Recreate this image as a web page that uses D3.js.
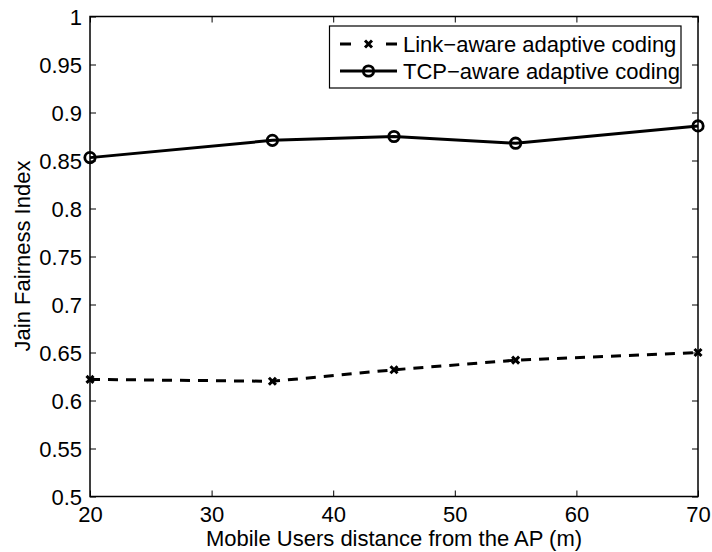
<!DOCTYPE html>
<html>
<head>
<meta charset="utf-8">
<script src="https://cdn.jsdelivr.net/npm/d3@7"></script>
<style>
  html, body { margin: 0; padding: 0; background: #fff; }
  svg { display: block; }
  text { font-family: "Liberation Sans", Arial, Helvetica, sans-serif; fill: #000; }
</style>
</head>
<body>
<svg id="chart" width="712" height="552"></svg>
<script>
// Distances of the mobile users from the access point (m)
const distances = [20, 35, 45, 55, 70];
// Jain fairness index per scheme
const linkAware = [0.622, 0.620, 0.632, 0.642, 0.650];
const tcpAware  = [0.853, 0.871, 0.875, 0.868, 0.886];
const seriesNames = ["Link\u2212aware adaptive coding", "TCP\u2212aware adaptive coding"];
const xTicks = [20, 30, 40, 50, 60, 70];
const yTicks = [0.5, 0.55, 0.6, 0.65, 0.7, 0.75, 0.8, 0.85, 0.9, 0.95, 1];

const svg = d3.select("#chart");
const m = { left: 90, right: 698, top: 16.5, bottom: 496.5 };

const x = d3.scaleLinear().domain([20, 70]).range([m.left, m.right]);
const y = d3.scaleLinear().domain([0.5, 1]).range([m.bottom, m.top]);

const fontSize = 22;
const tickLen = 6;

// Axes (ticks point inward, mirrored on the opposite sides)
const gx = svg.append("g").attr("transform", `translate(0,${m.bottom})`)
  .call(d3.axisBottom(x).tickValues(xTicks).tickSize(-tickLen).tickPadding(9.5).tickFormat(d3.format("d")));
const gxTop = svg.append("g").attr("transform", `translate(0,${m.top})`)
  .call(d3.axisTop(x).tickValues(xTicks).tickSize(-tickLen).tickFormat(""));
const gy = svg.append("g").attr("transform", `translate(${m.left},0)`)
  .call(d3.axisLeft(y).tickValues(yTicks).tickSize(-tickLen).tickPadding(8).tickFormat(d => String(+d.toFixed(2))));
const gyRight = svg.append("g").attr("transform", `translate(${m.right},0)`)
  .call(d3.axisRight(y).tickValues(yTicks).tickSize(-tickLen).tickFormat(""));

[gx, gxTop, gy, gyRight].forEach(g => {
  g.select(".domain").remove();
  g.selectAll(".tick line").attr("stroke", "#000").attr("stroke-width", 1);
  g.selectAll(".tick text").attr("font-size", fontSize).attr("font-family", "Liberation Sans, Arial, sans-serif").attr("fill", "#000");
});
gy.selectAll(".tick text").attr("dy", "0.36em");

// Plot frame
svg.append("rect")
  .attr("x", m.left).attr("y", m.top)
  .attr("width", m.right - m.left).attr("height", m.bottom - m.top)
  .attr("fill", "none").attr("stroke", "#000").attr("stroke-width", 1.5);

// Axis labels
svg.append("text")
  .attr("x", (m.left + m.right) / 2).attr("y", 546)
  .attr("text-anchor", "middle").attr("font-size", fontSize)
  .text("Mobile Users distance from the AP (m)");
svg.append("text")
  .attr("transform", `translate(30,256) rotate(-90)`)
  .attr("text-anchor", "middle").attr("font-size", fontSize)
  .text("Jain Fairness Index");

const line = d3.line().x(d => x(d[0])).y(d => y(d[1]));
const linkPts = distances.map((d, i) => [d, linkAware[i]]);
const tcpPts = distances.map((d, i) => [d, tcpAware[i]]);

function crossMarker(g, cx, cy) {
  const s = 3.5;
  g.append("path")
    .attr("d", `M${cx - s},${cy - s}L${cx + s},${cy + s}M${cx - s},${cy + s}L${cx + s},${cy - s}`)
    .attr("stroke", "#000").attr("stroke-width", 3).attr("fill", "none");
}
function circleMarker(g, cx, cy) {
  g.append("circle").attr("cx", cx).attr("cy", cy).attr("r", 5.2)
    .attr("fill", "none").attr("stroke", "#000").attr("stroke-width", 2.8);
}

// Link-aware series: dashed with x markers
svg.append("path").datum(linkPts).attr("d", line)
  .attr("fill", "none").attr("stroke", "#000").attr("stroke-width", 3)
  .attr("stroke-dasharray", "10,8");
const gLink = svg.append("g");
linkPts.forEach(p => crossMarker(gLink, x(p[0]), y(p[1])));

// TCP-aware series: solid with circle markers
svg.append("path").datum(tcpPts).attr("d", line)
  .attr("fill", "none").attr("stroke", "#000").attr("stroke-width", 3);
const gTcp = svg.append("g");
tcpPts.forEach(p => circleMarker(gTcp, x(p[0]), y(p[1])));

// Legend
const lg = svg.append("g");
lg.append("rect").attr("x", 329.5).attr("y", 26).attr("width", 351.5).attr("height", 62)
  .attr("fill", "#fff").attr("stroke", "#000").attr("stroke-width", 1.2);
const rows = [44, 71];
// row 1: dashed sample
lg.append("path").attr("d", `M340,${rows[0]}L351,${rows[0]}M386,${rows[0]}L397,${rows[0]}`)
  .attr("stroke", "#000").attr("stroke-width", 3).attr("fill", "none");
crossMarker(lg, 368.5, rows[0]);
// row 2: solid sample
lg.append("path").attr("d", `M340,${rows[1]}L397,${rows[1]}`)
  .attr("stroke", "#000").attr("stroke-width", 3).attr("fill", "none");
circleMarker(lg, 368.5, rows[1]);
rows.forEach((ry, i) => {
  lg.append("text").attr("x", 403).attr("y", ry).attr("dy", "0.36em")
    .attr("font-size", fontSize).text(seriesNames[i]);
});
</script>
</body>
</html>
